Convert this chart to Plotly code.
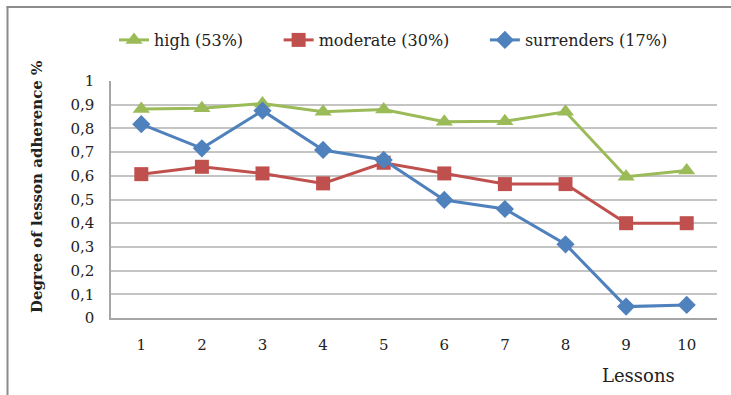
import plotly.graph_objects as go

lessons = [1, 2, 3, 4, 5, 6, 7, 8, 9, 10]
high = [0.882, 0.885, 0.905, 0.870, 0.880, 0.828, 0.830, 0.870, 0.596, 0.622]
moderate = [0.607, 0.638, 0.610, 0.568, 0.655, 0.610, 0.565, 0.565, 0.400, 0.400]
surrenders = [0.818, 0.716, 0.875, 0.709, 0.667, 0.498, 0.460, 0.311, 0.048, 0.055]
y_ticks = [0, 0.1, 0.2, 0.3, 0.4, 0.5, 0.6, 0.7, 0.8, 0.9, 1]
y_ticktext = ["0", "0,1", "0,2", "0,3", "0,4", "0,5", "0,6", "0,7", "0,8", "0,9", "1"]
series_names = ["high (53%)", "moderate (30%)", "surrenders (17%)"]

FONT = "DejaVu Serif"
PAD = "\u00a0" * 6

fig = go.Figure()
fig.add_trace(go.Scatter(x=lessons, y=high, name=series_names[0] + PAD, mode="lines+markers",
                         line=dict(color="#9BBB59", width=3),
                         marker=dict(symbol="triangle-up", size=15, color="#9BBB59")))
fig.add_trace(go.Scatter(x=lessons, y=moderate, name=series_names[1] + PAD, mode="lines+markers",
                         line=dict(color="#C0504D", width=3),
                         marker=dict(symbol="square", size=14, color="#C0504D")))
fig.add_trace(go.Scatter(x=lessons, y=surrenders, name=series_names[2], mode="lines+markers",
                         line=dict(color="#4F81BD", width=3),
                         marker=dict(symbol="diamond", size=14, color="#4F81BD")))

L, R, T, B = 111, 731 - 717, 81, 395 - 318
W, H = 731 - L - R, 395 - T - B

def px(x):
    return (x - L) / W

def py(y):
    return (395 - B - y) / H

fig.update_layout(
    width=731, height=395,
    margin=dict(l=L, r=R, t=T, b=B),
    paper_bgcolor="white", plot_bgcolor="white",
    font=dict(family=FONT, size=15, color="#222222"),
    showlegend=True,
    legend=dict(orientation="h", x=px(114), xanchor="left",
                y=py(40), yanchor="middle",
                font=dict(family=FONT, size=16, color="#222222"),
                itemwidth=30, tracegroupgap=0),
    xaxis=dict(range=[0.5, 10.5], tickvals=lessons, ticktext=[str(v) for v in lessons],
               showgrid=False, zeroline=False, showline=True, linecolor="#A6A6A6", linewidth=1.5,
               ticks="", ticklabelstandoff=12, tickfont=dict(family=FONT, size=15)),
    yaxis=dict(range=[0, 1], tickvals=y_ticks, ticktext=y_ticktext,
               showgrid=True, gridcolor="#C4C4C4", gridwidth=1.5, zeroline=False,
               showline=True, linecolor="#A6A6A6", linewidth=1.5,
               ticks="", ticklabelstandoff=12, tickfont=dict(family=FONT, size=15)),
    annotations=[
        dict(text="<b>Degree of lesson adherence %</b>", textangle=-90, showarrow=False,
             xref="paper", yref="paper", x=px(37), y=py(187),
             xanchor="center", yanchor="middle", font=dict(family=FONT, size=15, color="#222222")),
        dict(text="Lessons", showarrow=False, xref="paper", yref="paper",
             x=px(638), y=py(375), xanchor="center", yanchor="middle",
             font=dict(family=FONT, size=18, color="#222222")),
    ],
    shapes=[
        dict(type="line", xref="paper", yref="paper",
             x0=px(7.5), x1=px(7.5), y0=py(400), y1=py(6.5),
             line=dict(color="#8C8C8C", width=2)),
        dict(type="line", xref="paper", yref="paper",
             x0=px(6.5), x1=px(740), y0=py(7), y1=py(7),
             line=dict(color="#8C8C8C", width=2)),
    ],
)

fig.write_html("out.html", config={"displayModeBar": False},
               post_script="document.body.style.margin='0';")
